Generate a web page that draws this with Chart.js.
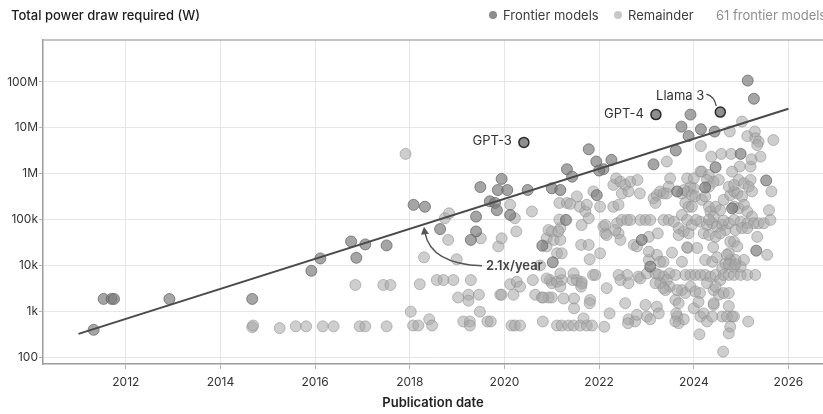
<!DOCTYPE html>
<html>
<head>
<meta charset="utf-8">
<script src="https://cdn.jsdelivr.net/npm/chart.js@4.4.1/dist/chart.umd.min.js"></script>
<style>
    body { margin: 0; background: #fff; font-family: Inter, "Noto Sans", sans-serif; }
    #wrap { position: relative; width: 823px; height: 414px; overflow: hidden; }
    #chart { position: absolute; left: 0; top: 0; }
    .head { position: absolute; top: 7px; font-size: 13px; line-height: 16px; white-space: nowrap; }
    .dot { position: absolute; top: 11px; width: 8px; height: 8px; border-radius: 50%; }
</style>
</head>
<body>
<div id="wrap">
    <canvas id="chart" width="823" height="414"></canvas>
    <div class="head" style="left:11px;color:#1d1d1d;font-weight:500">Total power draw required (W)</div>
    <span class="dot" style="left:489px;background:#8c8c8c"></span>
    <div class="head" style="left:503px;color:#3c3c3c">Frontier models</div>
    <span class="dot" style="left:614px;background:#c8c8c8"></span>
    <div class="head" style="left:628px;color:#3c3c3c">Remainder</div>
    <div class="head" style="left:716px;color:#8f8f8f">61 frontier models</div>
</div>
<script>
// publication date (decimal year), power draw in watts
const notableModels = [
    { name: "GPT-3", date: 2020.41, power: 4.8e6 },
    { name: "GPT-4", date: 2023.20, power: 1.94e7 },
    { name: "Llama 3", date: 2024.56, power: 2.2e7 }
];

const frontierModels = [
    [2011.32, 395], [2011.53, 1860], [2011.70, 1860], [2011.75, 1860], [2012.92, 1850], [2014.67, 1860],
    [2015.92, 7650], [2016.11, 14200], [2016.76, 33300], [2016.87, 14700], [2017.06, 28700], [2017.51, 27300],
    [2018.08, 2.09e5], [2025.14, 1.07e8], [2025.27, 4.3e7], [2023.93, 1.94e7], [2023.74, 1.06e7], [2023.89, 6.6e6],
    [2024.15, 9.3e6], [2024.44, 8.3e6], [2024.46, 1.38e6], [2023.62, 3.2e6], [2023.15, 1.6e6], [2021.78, 3.4e6],
    [2021.94, 1.84e6], [2022.26, 2.0e6], [2022.09, 1.25e6], [2022.00, 1.17e6], [2021.32, 1.25e6], [2021.43, 8.6e5],
    [2019.94, 7.7e5], [2019.49, 5.1e5], [2019.86, 4.4e5], [2020.06, 4.4e5], [2020.49, 4.4e5], [2021.00, 4.8e5],
    [2021.18, 4.4e5], [2018.32, 1.9e5], [2019.69, 2.5e5], [2019.80, 2.3e5], [2019.84, 1.6e5], [2020.12, 1.26e5],
    [2019.40, 1.16e5], [2021.30, 9.8e4], [2018.64, 6.2e4], [2019.40, 5.5e4], [2019.29, 3.6e4], [2020.80, 2.7e4],
    [2021.02, 1.17e4], [2021.95, 3.4e5], [2022.90, 3.6e4], [2023.08, 9400], [2023.65, 4.1e5], [2024.24, 5.0e5],
    [2024.81, 1.76e5], [2025.53, 7.1e5], [2025.32, 2.1e4], [2024.99, 2.7e6]
];

const remainderModels = [
    [2014.67, 450], [2014.69, 490], [2015.25, 430], [2015.59, 470], [2015.81, 470], [2016.16, 470], [2016.39, 470],
    [2016.94, 470], [2017.06, 470], [2017.51, 470], [2016.85, 3750], [2017.44, 3750], [2017.59, 3750], [2017.91, 2.7e6],
    [2018.02, 980], [2018.07, 490], [2018.18, 490], [2018.21, 3900],
    [2018.30, 1.5e4], [2018.41, 670], [2018.47, 490], [2018.57, 4800], [2018.71, 4800], [2018.92, 4800], [2018.74, 1.07e5],
    [2018.83, 1.37e5], [2018.81, 3.6e4], [2019.02, 2000], [2018.99, 1.36e4], [2019.13, 600], [2019.27, 600], [2019.27, 490],
    [2019.24, 2300], [2019.24, 1700], [2019.29, 4800], [2019.46, 2300], [2019.48, 980], [2019.50, 3.9e4], [2019.64, 600],
    [2019.71, 600], [2019.91, 2300], [2019.94, 2300], [2019.87, 2.6e4], [2019.94, 3.9e4],
    [2020.12, 3900], [2020.19, 2300], [2020.15, 490], [2020.22, 490], [2020.33, 490], [2020.26, 4400], [2020.33, 3450],
    [2020.25, 5.5e4], [2020.22, 1.07e5], [2020.12, 2.1e5], [2020.58, 1.5e5], [2020.60, 4800], [2020.65, 2300], [2020.79, 2000],
    [2020.81, 600], [2020.89, 3.9e4], [2020.89, 2.6e4], [2021.00, 5.5e4], [2021.04, 3.6e4], [2021.18, 3.6e4], [2020.96, 4800],
    [2021.00, 4100], [2021.11, 4400], [2021.21, 4800], [2020.93, 2000], [2021.00, 2000], [2020.93, 5.9e4], [2020.75, 1.0e4],
    [2020.89, 5200], [2020.82, 2000],
    [2021.11, 490], [2021.21, 490], [2021.35, 490], [2021.46, 490], [2021.60, 490], [2021.74, 490], [2021.85, 490],
    [2021.11, 1.84e4], [2021.21, 1.84e4], [2021.16, 2.3e5], [2021.18, 6.5e4], [2021.32, 2.3e5], [2021.39, 2.2e5],
    [2021.53, 3.2e5], [2021.59, 1.9e5], [2021.44, 4800], [2021.53, 4800], [2021.63, 4400], [2021.47, 1160], [2021.47, 1900],
    [2021.62, 2.8e4], [2021.78, 2.8e4], [2021.62, 3450], [2021.71, 1.5e5], [2021.74, 2.1e5], [2021.80, 1.36e4],
    [2021.81, 1770], [2021.80, 1500], [2021.87, 6200], [2021.88, 4.1e5], [2021.16, 1.0e5], [2021.78, 1.07e5],
    [2021.14, 5.5e4], [2021.63, 7.6e4], [2021.18, 6700], [2021.46, 6700], [2021.63, 4000], [2021.92, 6200],
    [2021.18, 3450], [2021.25, 1900], [2021.67, 700],
    [2022.02, 1.84e4], [2022.02, 1.9e5], [2022.09, 7.0e4], [2022.13, 5.0e4], [2022.11, 460], [2022.16, 3200], [2022.22, 900],
    [2022.30, 5.7e5], [2022.36, 7.9e5], [2022.45, 6.7e5], [2022.48, 3.7e5], [2022.55, 5.7e5], [2022.62, 4.1e5],
    [2022.66, 6.7e5], [2022.30, 1.9e5], [2022.41, 2.1e5], [2022.38, 8.3e4], [2022.48, 9.8e4], [2022.59, 9.8e4],
    [2022.66, 9.8e4], [2022.41, 5.0e4], [2022.45, 3.6e4], [2022.34, 5.9e4], [2022.41, 6200], [2022.59, 6200],
    [2022.45, 4800], [2022.62, 4100], [2022.62, 670], [2022.76, 600], [2022.61, 550], [2022.73, 2.8e4], [2022.80, 2.6e4],
    [2022.81, 7.3e5], [2022.86, 3.7e5], [2022.87, 9.8e4], [2022.98, 9.8e4], [2022.83, 5700], [2022.87, 5200],
    [2022.98, 1380], [2022.13, 7.6e4], [2022.16, 4.6e4], [2022.55, 1500], [2022.80, 840],
    [2023.08, 9.8e4], [2023.01, 6700], [2023.19, 6700], [2023.05, 1.32e4], [2023.22, 1.7e4], [2023.29, 1.2e4],
    [2023.36, 1.2e4], [2023.01, 770], [2023.08, 670], [2023.22, 1260], [2023.26, 900], [2023.05, 4.2e4], [2023.24, 5.0e4],
    [2023.15, 2.9e5], [2023.22, 3.4e5], [2023.29, 4.1e5], [2023.36, 3.7e5], [2023.19, 2.3e5], [2023.50, 7.9e5],
    [2023.47, 5.2e5], [2023.43, 3.7e5], [2023.36, 9.8e4], [2023.47, 9.8e4], [2023.58, 9.0e4], [2023.49, 6700],
    [2023.36, 5700], [2023.26, 6200], [2023.43, 4800], [2023.49, 3450], [2023.29, 4100], [2023.40, 2900], [2023.65, 770],
    [2023.68, 550], [2023.63, 900], [2023.79, 670], [2023.61, 1770], [2023.68, 1500], [2023.75, 3.7e5], [2023.86, 4.1e5],
    [2023.93, 5.2e5], [2024.00, 4.8e5], [2023.82, 2.3e5], [2023.89, 1.9e5], [2023.96, 1.9e5], [2023.75, 1.26e5],
    [2023.86, 9.8e4], [2023.96, 7.6e4], [2023.68, 6.5e4], [2023.79, 5.5e4], [2023.89, 5.0e4], [2023.87, 2.4e4],
    [2023.75, 1.2e4], [2023.82, 6200], [2023.93, 6200], [2023.75, 2900], [2023.82, 2500], [2023.93, 3450],
    [2023.43, 1.84e6], [2023.86, 7.9e5], [2023.79, 4.4e5], [2023.96, 3.4e5], [2023.05, 2.0e4], [2023.54, 1.9e4],
    [2023.68, 4.6e4], [2023.61, 6200], [2023.19, 4100], [2023.36, 3200], [2023.65, 2900], [2023.61, 600], [2023.86, 2.5e4],
    [2024.07, 2.4e4], [2024.03, 6200], [2024.14, 6200], [2024.03, 2700], [2024.13, 2500], [2024.00, 1160], [2024.14, 770],
    [2024.21, 900], [2024.12, 315], [2024.00, 7.9e5], [2024.17, 1.11e6], [2024.32, 9.4e5], [2024.42, 6.7e5],
    [2024.53, 7.3e5], [2024.03, 3.2e5], [2024.17, 2.7e5], [2024.32, 1.9e5], [2024.35, 1.5e5], [2024.46, 1.9e5],
    [2024.56, 1.6e5], [2024.42, 1.16e5], [2024.14, 9.0e4], [2024.28, 7.6e4], [2024.39, 8.3e4], [2024.49, 7.0e4],
    [2024.60, 7.6e4], [2024.67, 5.9e4], [2024.74, 8.3e4], [2024.21, 5.0e4], [2024.32, 4.6e4], [2024.46, 4.2e4],
    [2024.56, 5.0e4], [2024.77, 3.3e4], [2024.24, 1.32e4], [2024.39, 1.2e4], [2024.49, 1.5e4], [2024.60, 8700],
    [2024.67, 1.1e4], [2024.77, 1.32e4], [2024.24, 6200], [2024.35, 5700], [2024.46, 6200], [2024.56, 4800],
    [2024.63, 6200], [2024.74, 6200], [2024.85, 6200], [2024.99, 6200], [2025.13, 6200], [2025.30, 6200],
    [2024.28, 4100], [2024.42, 2900], [2024.53, 2300], [2024.63, 2500], [2024.74, 2500], [2024.42, 1380], [2024.60, 770],
    [2024.70, 770], [2024.81, 770], [2024.74, 1300], [2024.77, 460], [2024.74, 330], [2024.62, 132], [2024.63, 2.7e5],
    [2024.77, 3.4e5], [2024.85, 4.1e5], [2024.92, 3.7e5], [2025.02, 3.2e5], [2024.74, 5.2e5], [2024.85, 5.7e5],
    [2024.95, 7.3e5], [2025.06, 6.2e5], [2024.85, 1.9e5], [2024.95, 1.76e5], [2025.06, 2.1e5], [2025.13, 1.5e5],
    [2025.23, 1.16e5], [2024.85, 9.8e4], [2024.99, 9.0e4], [2025.13, 8.3e4], [2025.27, 8.3e4], [2025.37, 8.3e4],
    [2025.48, 8.3e4], [2024.88, 5.9e4], [2025.02, 6.5e4], [2025.13, 6.5e4], [2025.34, 4.2e4], [2025.59, 1.6e5],
    [2025.62, 9.8e4], [2025.64, 4.1e5], [2024.85, 3.3e4], [2024.74, 1.84e4], [2024.92, 2.6e4], [2024.85, 9400],
    [2024.99, 9400], [2025.06, 1.32e4], [2024.88, 1.32e4], [2025.55, 1.7e4], [2025.20, 7.3e5], [2025.16, 5.2e5],
    [2025.23, 4.1e5], [2025.20, 1.43e6], [2025.15, 600], [2024.76, 8.3e6], [2025.02, 1.37e7], [2025.13, 6.6e6],
    [2025.29, 8.3e6], [2025.30, 5.9e6], [2025.37, 5.0e6], [2025.34, 4.2e6], [2025.68, 5.4e6], [2025.22, 2.06e6],
    [2025.41, 2.35e6], [2024.15, 4.0e6], [2024.37, 2.35e6], [2024.58, 2.7e6], [2024.79, 2.7e6], [2024.97, 1.43e6],
    [2024.81, 1.11e6], [2024.14, 1.11e6], [2024.28, 7.3e5], [2024.32, 5.2e5], [2024.24, 3.2e5], [2024.05, 9.8e4],
    [2024.32, 1.0e5], [2024.63, 9.5e4], [2024.41, 2.5e4], [2024.70, 1.7e4], [2024.74, 1.06e4], [2024.88, 1.06e4],
    [2024.46, 3450], [2024.10, 1600], [2024.42, 1500], [2024.28, 600], [2024.39, 770], [2024.85, 770]
];

// fitted trend, 2.1x per year
const trendLine = [[2011.0, 322], [2026.0, 2.6e7]];

const yearTicks = [2012, 2014, 2016, 2018, 2020, 2022, 2024, 2026];
const powerTicks = [1e2, 1e3, 1e4, 1e5, 1e6, 1e7, 1e8];
const powerLabels = ["100", "1k", "10k", "100k", "1M", "10M", "100M"];

window.onload = main;

function toPoints(list) {
    return list.map(function (p) { return { x: p[0], y: p[1] }; });
}

// labels for the named models, the growth arrow and the top frame line
const annotations = {
    id: "annotations",
    afterDatasetsDraw(chart) {
        const ctx = chart.ctx;
        const x = chart.scales.x, y = chart.scales.y;
        const area = chart.chartArea;
        ctx.save();

        ctx.strokeStyle = "#b0b0b0";
        ctx.lineWidth = 1.5;
        ctx.beginPath();
        ctx.moveTo(area.left, area.top);
        ctx.lineTo(area.right, area.top);
        ctx.stroke();

        ctx.font = "13px Inter";
        ctx.fillStyle = "#333";
        ctx.textBaseline = "middle";
        ctx.textAlign = "right";
        notableModels.forEach(function (m) {
            const px = x.getPixelForValue(m.date), py = y.getPixelForValue(m.power);
            if (m.name === "Llama 3") {
                ctx.fillText(m.name, px - 16, py - 16);
                ctx.strokeStyle = "#444";
                ctx.lineWidth = 1.2;
                ctx.beginPath();
                ctx.moveTo(px - 14, py - 18);
                ctx.quadraticCurveTo(px - 6, py - 16, px - 4, py - 6);
                ctx.stroke();
            } else {
                ctx.fillText(m.name, px - 12, py - 1);
            }
        });

        const tx = x.getPixelForValue(2018.32), ty = y.getPixelForValue(6.6e4);
        const lx = x.getPixelForValue(2019.61), ly = y.getPixelForValue(9.8e3);
        ctx.strokeStyle = "#555";
        ctx.lineWidth = 1.5;
        ctx.beginPath();
        ctx.moveTo(lx - 4, ly);
        ctx.quadraticCurveTo(tx + 6, ly - 2, tx, ty + 5);
        ctx.stroke();
        ctx.fillStyle = "#555";
        ctx.beginPath();
        ctx.moveTo(tx - 1, ty - 1);
        ctx.lineTo(tx - 4, ty + 7);
        ctx.lineTo(tx + 4, ty + 6);
        ctx.closePath();
        ctx.fill();

        ctx.font = "600 13px Inter";
        ctx.fillStyle = "#444";
        ctx.textAlign = "left";
        ctx.fillText("2.1x/year", lx, ly);
        ctx.restore();
    }
};

function main() {
    new Chart(document.getElementById("chart"), {
        type: "scatter",
        data: {
            datasets: [
                {
                    type: "line",
                    label: "Trend",
                    data: toPoints(trendLine),
                    borderColor: "#4a4a4a",
                    borderWidth: 2,
                    pointRadius: 0,
                    order: 0
                },
                {
                    label: "Notable",
                    data: notableModels.map(function (m) { return { x: m.date, y: m.power }; }),
                    backgroundColor: "rgba(130,130,130,0.9)",
                    borderColor: "#2b2b2b",
                    borderWidth: 1.5,
                    pointRadius: 5,
                    order: 1
                },
                {
                    label: "Frontier models",
                    data: toPoints(frontierModels),
                    backgroundColor: "rgba(122,122,122,0.68)",
                    borderColor: "rgba(95,95,95,0.7)",
                    borderWidth: 1,
                    pointRadius: 5.5,
                    order: 2
                },
                {
                    label: "Remainder",
                    data: toPoints(remainderModels),
                    backgroundColor: "rgba(165,165,165,0.55)",
                    borderColor: "rgba(140,140,140,0.55)",
                    borderWidth: 1,
                    pointRadius: 5.5,
                    order: 3
                }
            ]
        },
        options: {
            responsive: false,
            animation: false,
            devicePixelRatio: 1,
            layout: { autoPadding: false, padding: { top: 40, left: 0, right: 0, bottom: 0 } },
            plugins: {
                legend: { display: false },
                tooltip: { enabled: false }
            },
            scales: {
                x: {
                    type: "linear",
                    min: 2010.25,
                    max: 2026.73,
                    afterBuildTicks: function (scale) {
                        scale.ticks = yearTicks.map(function (v) { return { value: v }; });
                    },
                    afterFit: function (scale) {
                        scale.paddingLeft = 0;
                        scale.paddingRight = 0;
                        scale.height = 50;
                    },
                    ticks: {
                        padding: 6,
                        color: "#333",
                        font: { family: "Inter", size: 12 },
                        callback: function (v) { return String(v); }
                    },
                    grid: { color: "#e6e6e6", tickColor: "#b5b5b5", tickLength: 5 },
                    border: { color: "#9c9c9c", width: 1.5 },
                    title: {
                        display: true,
                        text: "Publication date",
                        color: "#222",
                        font: { family: "Inter", size: 13, weight: "600" },
                        padding: { top: 2, bottom: 3 }
                    }
                },
                y: {
                    type: "logarithmic",
                    min: 71,
                    max: 8.2e8,
                    afterBuildTicks: function (scale) {
                        scale.ticks = powerTicks.map(function (v) { return { value: v }; });
                    },
                    afterFit: function (scale) { scale.width = 43; },
                    ticks: {
                        padding: 1,
                        color: "#333",
                        font: { family: "Inter", size: 12 },
                        callback: function (v) {
                            const i = powerTicks.indexOf(v);
                            return i >= 0 ? powerLabels[i] : "";
                        }
                    },
                    grid: { color: "#e6e6e6", tickColor: "#b5b5b5", tickLength: 4 },
                    border: { color: "#9c9c9c", width: 1.5 }
                }
            }
        },
        plugins: [annotations]
    });
}
</script>
</body>
</html>
